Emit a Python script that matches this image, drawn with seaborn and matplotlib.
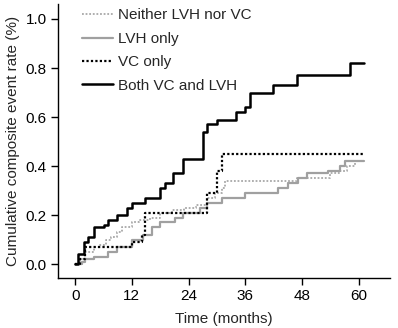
import numpy as np
import pandas as pd
import matplotlib
matplotlib.use("Agg")
import matplotlib.pyplot as plt
import seaborn as sns

# Step curves (time in months, cumulative event rate)
neither_t = [0, 1.0, 2.1, 3.9, 5.0, 6.5, 7.5, 8.8, 10.0, 12.0, 13.5, 15.9, 18.0, 20.5, 23.0, 25.5, 27.8, 29.5, 31.0, 31.8, 46.9, 54.0, 56.0, 57.4, 59.2, 61.0]
neither_v = [0, 0.02, 0.05, 0.07, 0.08, 0.10, 0.11, 0.13, 0.15, 0.17, 0.18, 0.19, 0.21, 0.22, 0.23, 0.24, 0.27, 0.29, 0.31, 0.34, 0.35, 0.37, 0.38, 0.40, 0.42, 0.42]

lvh_t = [0, 1.5, 2.1, 3.9, 7.0, 8.8, 12.0, 14.4, 16.2, 18.0, 21.1, 22.9, 26.4, 27.8, 31.0, 35.9, 43.0, 45.1, 47.2, 49.0, 53.5, 56.0, 57.1, 61.0]
lvh_v = [0, 0.01, 0.02, 0.03, 0.05, 0.07, 0.10, 0.12, 0.15, 0.17, 0.19, 0.21, 0.23, 0.25, 0.27, 0.29, 0.31, 0.33, 0.35, 0.37, 0.38, 0.40, 0.42, 0.42]

vc_t = [0, 1.0, 2.1, 12.0, 14.1, 14.8, 27.8, 30.0, 31.0, 61.0]
vc_v = [0, 0.02, 0.07, 0.09, 0.12, 0.21, 0.29, 0.38, 0.45, 0.45]

both_t = [0, 0.7, 1.8, 2.8, 3.9, 6.0, 7.0, 8.8, 10.9, 12.0, 14.8, 18.0, 19.0, 20.8, 22.9, 27.1, 27.8, 30.0, 34.0, 35.9, 37.0, 41.9, 47.0, 58.1, 61.0]
both_v = [0, 0.04, 0.09, 0.11, 0.15, 0.16, 0.18, 0.20, 0.23, 0.25, 0.27, 0.31, 0.33, 0.37, 0.43, 0.54, 0.57, 0.59, 0.62, 0.64, 0.70, 0.73, 0.77, 0.82, 0.82]

groups = ["Neither LVH nor VC", "LVH only", "VC only", "Both VC and LVH"]
times = [neither_t, lvh_t, vc_t, both_t]
rates = [neither_v, lvh_v, vc_v, both_v]
styles = [dict(color="#a8a8a8", linestyle=(0, (1, 1)), linewidth=1.3),
          dict(color="#a0a0a0", linestyle="-", linewidth=1.6),
          dict(color="black", linestyle=(0, (1, 1)), linewidth=1.6),
          dict(color="black", linestyle="-", linewidth=1.8)]

sns.set_style("ticks")
plt.rcParams["font.family"] = ["Liberation Sans", "DejaVu Sans"]

fig = plt.figure(figsize=(3.98, 3.28), dpi=100)
ax = fig.add_axes([0.146, 0.152, 0.834, 0.835])

for g, t, v, st in zip(groups, times, rates, styles):
    df = pd.DataFrame({"time": t, "rate": v})
    sns.lineplot(data=df, x="time", y="rate", ax=ax, estimator=None,
                 drawstyle="steps-post", label=g, **st)

ax.set_xlim(-3.6, 66.6)
ax.set_ylim(-0.057, 1.06)
ax.set_xticks([0, 12, 24, 36, 48, 60])
ax.set_yticks([0.0, 0.2, 0.4, 0.6, 0.8, 1.0])
ax.set_yticklabels(["0.0", "0.2", "0.4", "0.6", "0.8", "1.0"])
ax.tick_params(labelsize=11, length=5, width=1, color="black", labelcolor="black", pad=3)
for s in ["top", "right"]:
    ax.spines[s].set_visible(False)
for s in ["left", "bottom"]:
    ax.spines[s].set_color("black")
    ax.spines[s].set_linewidth(1)

ax.set_xlabel("Time (months)", fontsize=11, labelpad=6)
ax.set_ylabel("Cumulative composite event rate (%)", fontsize=11, labelpad=4)

ax.legend(loc="upper left", bbox_to_anchor=(0.031, 1.035), frameon=False, fontsize=11,
          handlelength=2.0, handletextpad=0.33, labelspacing=0.62)

fig.savefig("out.png", dpi=100)
